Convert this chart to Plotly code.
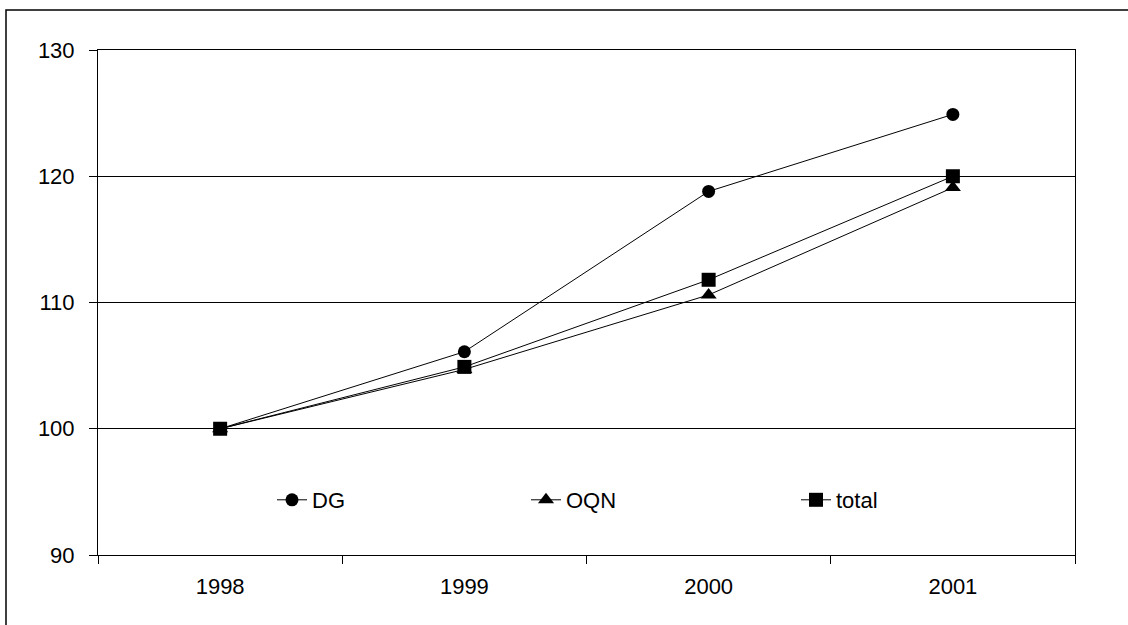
import plotly.graph_objects as go

years = ["1998", "1999", "2000", "2001"]
dg = [100, 106.1, 118.8, 124.9]
oqn = [100, 104.7, 110.6, 119.1]
total = [100, 104.9, 111.8, 120.0]

W, H = 1128, 625
L, R, T, B = 98, 53, 50, 70
pw, ph = W - L - R, H - T - B

def px2paper_x(px):
    return (px - L) / pw

def px2paper_y(py):
    return (H - B - py) / ph

series = [
    ("DG", dg, "circle", 13, "legend", 272),
    ("OQN", oqn, "triangle-up", 14, "legend2", 526),
    ("total", total, "square", 14, "legend3", 796),
]

fig = go.Figure()
for name, vals, sym, sz, lg, _ in series:
    fig.add_trace(go.Scatter(
        x=years, y=vals, name=name, mode="lines+markers",
        line=dict(color="black", width=1),
        marker=dict(symbol=sym, size=sz, color="black"),
        legend=lg,
    ))

legend_common = dict(
    orientation="h", yanchor="middle", xanchor="left",
    bgcolor="rgba(0,0,0,0)", font=dict(size=22),
)
layout_legends = {}
for name, vals, sym, sz, lg, xpx in series:
    layout_legends[lg] = dict(legend_common, x=px2paper_x(xpx), y=px2paper_y(500))

fig.update_layout(
    width=W, height=H,
    margin=dict(l=L, r=R, t=T, b=B),
    paper_bgcolor="white", plot_bgcolor="white",
    font=dict(family="Liberation Sans, Arial, sans-serif", size=22, color="black"),
    showlegend=True,
    xaxis=dict(
        type="category", range=[-0.5, 3.5], tickson="boundaries",
        ticks="outside", ticklen=8, tickcolor="black", ticklabelstandoff=12,
        showline=True, linecolor="black", linewidth=1, mirror=True,
        showgrid=False, zeroline=False,
    ),
    yaxis=dict(
        range=[90, 130], dtick=10, ticks="outside", ticklen=8, tickcolor="black",
        ticklabelstandoff=10,
        showline=True, linecolor="black", linewidth=1, mirror=True,
        showgrid=True, gridcolor="black", gridwidth=1, zeroline=False,
    ),
    shapes=[dict(
        type="rect", xref="paper", yref="paper",
        x0=px2paper_x(6), x1=px2paper_x(1135), y0=px2paper_y(640), y1=px2paper_y(10),
        line=dict(color="black", width=1.5), layer="below",
    )],
    **layout_legends,
)

fig.write_html("out.html")
